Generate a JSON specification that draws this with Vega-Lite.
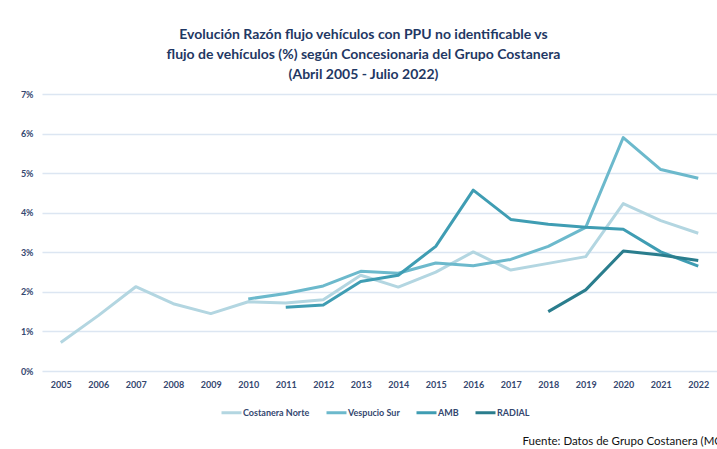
{
  "$schema": "https://vega.github.io/schema/vega-lite/v6.json",
  "width": 675,
  "height": 277,
  "autosize": {"type": "none"},
  "padding": {"left": 42, "top": 94, "right": 0, "bottom": 78},
  "background": "white",
  "title": {
    "text": ["Evolución Razón flujo vehículos con PPU no identificable vs", "flujo de vehículos (%) según Concesionaria del Grupo Costanera", "(Abril 2005 - Julio 2022)"],
    "font": "Lato",
    "fontSize": 14,
    "fontWeight": "bold",
    "color": "#1f3864",
    "lineHeight": 20,
    "anchor": "middle",
    "dx": -16,
    "offset": 8
  },
  "data": {
    "values": [
      {"year": "2005", "series": "Costanera Norte", "value": 0.0072},
      {"year": "2006", "series": "Costanera Norte", "value": 0.014},
      {"year": "2007", "series": "Costanera Norte", "value": 0.0213},
      {"year": "2008", "series": "Costanera Norte", "value": 0.017},
      {"year": "2009", "series": "Costanera Norte", "value": 0.0145},
      {"year": "2010", "series": "Costanera Norte", "value": 0.0175},
      {"year": "2011", "series": "Costanera Norte", "value": 0.0172},
      {"year": "2012", "series": "Costanera Norte", "value": 0.018},
      {"year": "2013", "series": "Costanera Norte", "value": 0.0242},
      {"year": "2014", "series": "Costanera Norte", "value": 0.0212},
      {"year": "2015", "series": "Costanera Norte", "value": 0.025},
      {"year": "2016", "series": "Costanera Norte", "value": 0.0301},
      {"year": "2017", "series": "Costanera Norte", "value": 0.0255},
      {"year": "2018", "series": "Costanera Norte", "value": 0.0272},
      {"year": "2019", "series": "Costanera Norte", "value": 0.0289},
      {"year": "2020", "series": "Costanera Norte", "value": 0.0423},
      {"year": "2021", "series": "Costanera Norte", "value": 0.038},
      {"year": "2022", "series": "Costanera Norte", "value": 0.0348},
      {"year": "2010", "series": "Vespucio Sur", "value": 0.0182},
      {"year": "2011", "series": "Vespucio Sur", "value": 0.0196},
      {"year": "2012", "series": "Vespucio Sur", "value": 0.0215},
      {"year": "2013", "series": "Vespucio Sur", "value": 0.0252},
      {"year": "2014", "series": "Vespucio Sur", "value": 0.0247},
      {"year": "2015", "series": "Vespucio Sur", "value": 0.0273},
      {"year": "2016", "series": "Vespucio Sur", "value": 0.0266},
      {"year": "2017", "series": "Vespucio Sur", "value": 0.0282},
      {"year": "2018", "series": "Vespucio Sur", "value": 0.0315},
      {"year": "2019", "series": "Vespucio Sur", "value": 0.0363},
      {"year": "2020", "series": "Vespucio Sur", "value": 0.059},
      {"year": "2021", "series": "Vespucio Sur", "value": 0.0509},
      {"year": "2022", "series": "Vespucio Sur", "value": 0.0487},
      {"year": "2011", "series": "AMB", "value": 0.0161},
      {"year": "2012", "series": "AMB", "value": 0.0167},
      {"year": "2013", "series": "AMB", "value": 0.0226},
      {"year": "2014", "series": "AMB", "value": 0.0242},
      {"year": "2015", "series": "AMB", "value": 0.0315},
      {"year": "2016", "series": "AMB", "value": 0.0457},
      {"year": "2017", "series": "AMB", "value": 0.0383},
      {"year": "2018", "series": "AMB", "value": 0.0371},
      {"year": "2019", "series": "AMB", "value": 0.0363},
      {"year": "2020", "series": "AMB", "value": 0.0358},
      {"year": "2021", "series": "AMB", "value": 0.0301},
      {"year": "2022", "series": "AMB", "value": 0.0265},
      {"year": "2018", "series": "RADIAL", "value": 0.015},
      {"year": "2019", "series": "RADIAL", "value": 0.0205},
      {"year": "2020", "series": "RADIAL", "value": 0.0303},
      {"year": "2021", "series": "RADIAL", "value": 0.0293},
      {"year": "2022", "series": "RADIAL", "value": 0.0279}
    ]
  },
  "mark": {"type": "line", "strokeWidth": 3, "strokeJoin": "round"},
  "encoding": {
    "x": {
      "field": "year",
      "type": "ordinal",
      "scale": {"type": "point", "padding": 0.5},
      "axis": {
        "title": "Fuente: Datos de Grupo Costanera (MOP)",
        "titleFont": "Lato",
        "titleFontSize": 11.5,
        "titleFontWeight": "normal",
        "titleColor": "#111111",
        "titleAnchor": "start",
        "titleAlign": "left",
        "titleBaseline": "middle",
        "titleX": 480,
        "titleY": 70,
        "labelAngle": 0,
        "labelFont": "Lato",
        "labelFontSize": 9,
        "labelFontWeight": "bold",
        "labelColor": "#34476f",
        "labelPadding": 9,
        "domain": false,
        "ticks": false,
        "grid": false
      }
    },
    "y": {
      "field": "value",
      "type": "quantitative",
      "scale": {"domain": [0, 0.07], "nice": false},
      "axis": {
        "title": null,
        "format": ".0%",
        "values": [0, 0.01, 0.02, 0.03, 0.04, 0.05, 0.06, 0.07],
        "labelFont": "Lato",
        "labelFontSize": 9,
        "labelFontWeight": "bold",
        "labelColor": "#34476f",
        "labelPadding": 9,
        "domain": false,
        "ticks": false,
        "grid": true,
        "gridColor": "#dce6f2",
        "gridWidth": 1.5
      }
    },
    "color": {
      "field": "series",
      "type": "nominal",
      "sort": ["Costanera Norte", "Vespucio Sur", "AMB", "RADIAL"],
      "scale": {
        "domain": ["Costanera Norte", "Vespucio Sur", "AMB", "RADIAL"],
        "range": ["#b3d6e1", "#6cb9cc", "#3f9db3", "#2a7d8d"]
      },
      "legend": {
        "title": null,
        "orient": "none",
        "legendX": 178,
        "legendY": 307,
        "direction": "horizontal",
        "symbolType": "stroke",
        "symbolSize": 400,
        "symbolStrokeWidth": 3,
        "labelFont": "Lato",
        "labelFontSize": 9,
        "labelFontWeight": "bold",
        "labelColor": "#34476f",
        "labelOffset": 0,
        "columnPadding": 10
      }
    }
  },
  "config": {"view": {"stroke": null}}
}
